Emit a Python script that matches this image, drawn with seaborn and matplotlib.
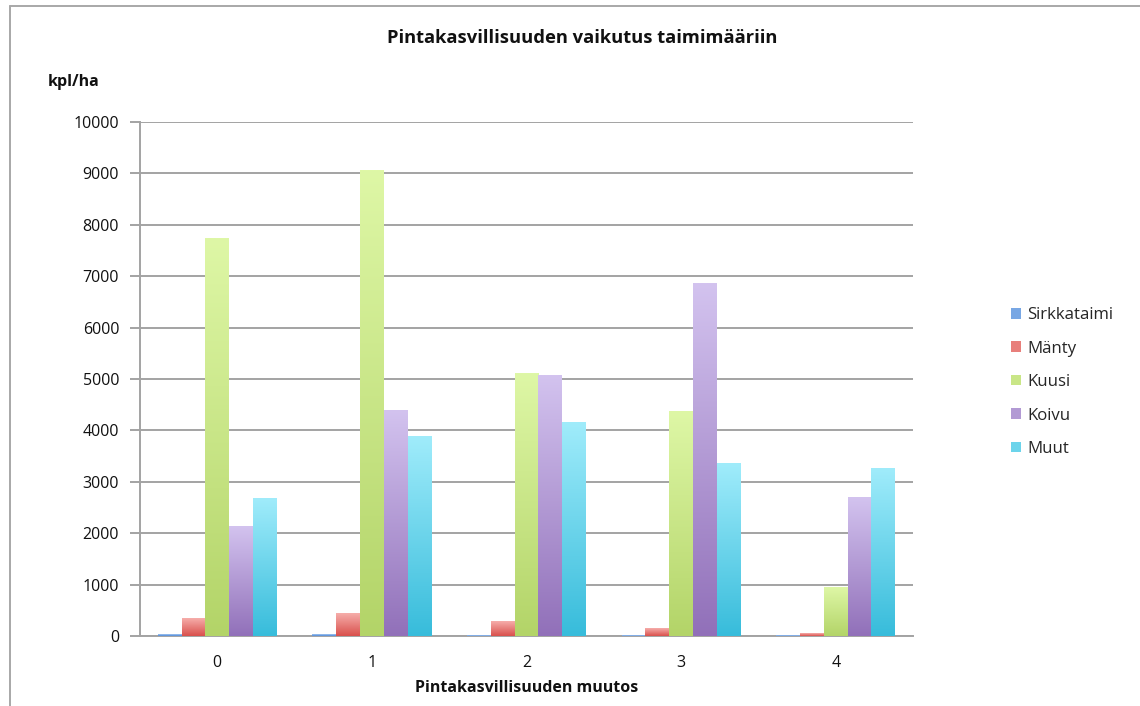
import numpy as np
import pandas as pd
import matplotlib
matplotlib.use("Agg")
import matplotlib.pyplot as plt
from matplotlib.colors import LinearSegmentedColormap, to_rgb
from matplotlib.lines import Line2D
from matplotlib.patches import Patch
import seaborn as sns

# Data: seedlings per hectare by change in ground vegetation
categories = ["0", "1", "2", "3", "4"]
series = ["Sirkkataimi", "Mänty", "Kuusi", "Koivu", "Muut"]
sirkkataimi = [30, 30, 10, 5, 10]
manty = [350, 445, 290, 142, 45]
kuusi = [7730, 9060, 5110, 4360, 940]
koivu = [2140, 4380, 5060, 6850, 2700]
muut = [2680, 3875, 4160, 3355, 3255]
y_ticks = [0, 1000, 2000, 3000, 4000, 5000, 6000, 7000, 8000, 9000, 10000]

title = "Pintakasvillisuuden vaikutus taimimääriin"
x_label = "Pintakasvillisuuden muutos"
y_label = "kpl/ha"

# (bottom colour, top colour) for each series' vertical gradient
gradients = {
    "Sirkkataimi": ("#4a86d6", "#a6c8f2"),
    "Mänty": ("#d9504c", "#f6aeab"),
    "Kuusi": ("#b3d468", "#def7a6"),
    "Koivu": ("#9170b9", "#d3c3ef"),
    "Muut": ("#37bcdb", "#a0ecfb"),
}

df = pd.DataFrame({
    "muutos": np.repeat(categories, len(series)),
    "laji": series * len(categories),
    "kpl": np.column_stack([sirkkataimi, manty, kuusi, koivu, muut]).ravel(),
})

sns.set_style("white")
plt.rcParams["font.family"] = ["Open Sans", "DejaVu Sans"]

fig = plt.figure(figsize=(11.4, 7.06), dpi=100)
ax = fig.add_axes([140 / 1140, 1 - 636 / 706, (913 - 140) / 1140, (636 - 122) / 706])

palette = {k: v[0] for k, v in gradients.items()}
sns.barplot(data=df, x="muutos", y="kpl", hue="laji", order=categories,
            hue_order=series, palette=palette, width=0.769, gap=0,
            errorbar=None, legend=False, ax=ax, zorder=3)

# Replace flat fills with top-to-bottom gradients
grad = np.linspace(0, 1, 256).reshape(-1, 1)
for container, name in zip(ax.containers, series):
    lo, hi = gradients[name]
    cmap = LinearSegmentedColormap.from_list(name, [lo, hi])
    for bar in container:
        x0, w, h = bar.get_x(), bar.get_width(), bar.get_height()
        bar.set_facecolor("none")
        bar.set_edgecolor("none")
        if h <= 0:
            continue
        ax.imshow(grad, extent=[x0, x0 + w, 0, h], origin="lower",
                  cmap=cmap, aspect="auto", zorder=3, interpolation="bilinear")

ax.set_xlim(-0.5, len(categories) - 0.5)
ax.set_ylim(0, 10000)

grid_c = "#a3a3a3"
ax.set_yticks(y_ticks)
ax.set_yticklabels([str(v) for v in y_ticks])
ax.yaxis.grid(True, color=grid_c, linewidth=1.4, zorder=0)
ax.set_axisbelow(True)

ax.set_xticks(range(len(categories)))
ax.set_xticklabels(categories)
ax.set_xticks(np.arange(-0.5, len(categories), 1.0), minor=True)
ax.tick_params(axis="x", which="major", length=0, pad=14, labelsize=11.5, labelcolor="#111111")
ax.tick_params(axis="x", which="minor", length=7, width=1.4, color=grid_c, direction="out")
ax.tick_params(axis="y", length=7, width=1.4, color=grid_c, direction="out", pad=8,
               labelsize=11.5, labelcolor="#111111")
ax.tick_params(left=True, bottom=True)

for side in ("top", "right"):
    ax.spines[side].set_visible(False)
for side in ("left", "bottom"):
    ax.spines[side].set_color(grid_c)
    ax.spines[side].set_linewidth(1.4)

ax.set_xlabel(x_label, fontsize=11.5, fontweight="bold", labelpad=6, color="#111111")
ax.set_ylabel("")
fig.text(48 / 1140, 1 - 82 / 706, y_label, fontsize=11.5, fontweight="bold",
         ha="left", va="center", color="#111111")
fig.text(582 / 1140, 1 - 38 / 706, title, fontsize=13.2, fontweight="bold",
         ha="center", va="center", color="#111111")

def mid(c1, c2):
    a, b = np.array(to_rgb(c1)), np.array(to_rgb(c2))
    return tuple((a + b) / 2)

handles = [Patch(facecolor=mid(*gradients[s]), edgecolor="none") for s in series]
fig.legend(handles, series, loc="upper left", bbox_to_anchor=(996 / 1140, 1 - 292 / 706),
           frameon=False, handlelength=0.6, handleheight=0.6,
           handletextpad=0.35, labelspacing=1.04, prop={"family": ["Open Sans"], "size": 12.1})

# Outer chart frame
fig.add_artist(Line2D([9.5 / 1140, 9.5 / 1140], [0, 1 - 6 / 706], transform=fig.transFigure,
                      color="#a8a8a8", linewidth=1.4))
fig.add_artist(Line2D([9.5 / 1140, 1], [1 - 6 / 706, 1 - 6 / 706], transform=fig.transFigure,
                      color="#a8a8a8", linewidth=1.4))

fig.savefig("out.png", dpi=100, facecolor="white")
